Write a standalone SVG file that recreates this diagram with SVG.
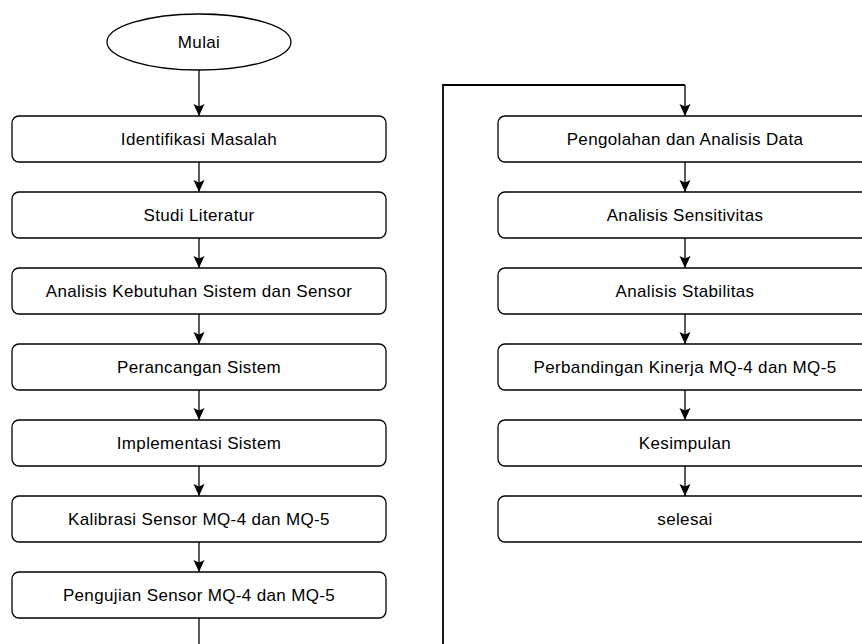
<svg xmlns="http://www.w3.org/2000/svg" width="862" height="644" viewBox="0 0 862 644">
<style>
.box{fill:#fff;stroke:#000;stroke-width:1.3}
.t{font-family:"Liberation Sans",Arial,sans-serif;font-size:17px;letter-spacing:0.35px;fill:#000;text-anchor:middle}
.c{fill:none;stroke:#000;stroke-width:1.3}
</style>
<defs>
<marker id="ah" markerUnits="userSpaceOnUse" markerWidth="14" markerHeight="14" viewBox="-7 -13 14 14" refX="0" refY="0" orient="0">
<path d="M0,0 L-5.5,-12 L0,-9.5 L5.5,-12 Z" fill="#000"/>
</marker>
</defs>
<rect width="862" height="644" fill="#fff"/>
<g id="connectors">
<line class="c" x1="199" y1="70" x2="199" y2="116" marker-end="url(#ah)"/>
<line class="c" x1="199" y1="162" x2="199" y2="192" marker-end="url(#ah)"/>
<line class="c" x1="199" y1="238" x2="199" y2="268" marker-end="url(#ah)"/>
<line class="c" x1="199" y1="314" x2="199" y2="344" marker-end="url(#ah)"/>
<line class="c" x1="199" y1="390" x2="199" y2="420" marker-end="url(#ah)"/>
<line class="c" x1="199" y1="466" x2="199" y2="496" marker-end="url(#ah)"/>
<line class="c" x1="199" y1="542" x2="199" y2="572" marker-end="url(#ah)"/>
<line class="c" x1="199" y1="618" x2="199" y2="650"/>
<polyline class="c" style="stroke-width:1.8" points="443,650 443,85 685,85"/>
<line class="c" x1="685" y1="85" x2="685" y2="116" marker-end="url(#ah)"/>
<line class="c" x1="685" y1="162" x2="685" y2="192" marker-end="url(#ah)"/>
<line class="c" x1="685" y1="238" x2="685" y2="268" marker-end="url(#ah)"/>
<line class="c" x1="685" y1="314" x2="685" y2="344" marker-end="url(#ah)"/>
<line class="c" x1="685" y1="390" x2="685" y2="420" marker-end="url(#ah)"/>
<line class="c" x1="685" y1="466" x2="685" y2="496" marker-end="url(#ah)"/>
</g>
<g id="mulai"><ellipse class="box" cx="199" cy="42" rx="92" ry="28"/><text class="t" x="199" y="48">Mulai</text></g>
<g id="n1"><rect class="box" x="12" y="116" width="374" height="46" rx="7"/><text class="t" x="199" y="145">Identifikasi Masalah</text></g>
<g id="n2"><rect class="box" x="12" y="192" width="374" height="46" rx="7"/><text class="t" x="199" y="221">Studi Literatur</text></g>
<g id="n3"><rect class="box" x="12" y="268" width="374" height="46" rx="7"/><text class="t" x="199" y="297">Analisis Kebutuhan Sistem dan Sensor</text></g>
<g id="n4"><rect class="box" x="12" y="344" width="374" height="46" rx="7"/><text class="t" x="199" y="373">Perancangan Sistem</text></g>
<g id="n5"><rect class="box" x="12" y="420" width="374" height="46" rx="7"/><text class="t" x="199" y="449">Implementasi Sistem</text></g>
<g id="n6"><rect class="box" x="12" y="496" width="374" height="46" rx="7"/><text class="t" x="199" y="525">Kalibrasi Sensor MQ-4 dan MQ-5</text></g>
<g id="n7"><rect class="box" x="12" y="572" width="374" height="46" rx="7"/><text class="t" x="199" y="601">Pengujian Sensor MQ-4 dan MQ-5</text></g>
<g id="n8"><rect class="box" x="498" y="116" width="374" height="46" rx="7"/><text class="t" x="685" y="145">Pengolahan dan Analisis Data</text></g>
<g id="n9"><rect class="box" x="498" y="192" width="374" height="46" rx="7"/><text class="t" x="685" y="221">Analisis Sensitivitas</text></g>
<g id="n10"><rect class="box" x="498" y="268" width="374" height="46" rx="7"/><text class="t" x="685" y="297">Analisis Stabilitas</text></g>
<g id="n11"><rect class="box" x="498" y="344" width="374" height="46" rx="7"/><text class="t" x="685" y="373">Perbandingan Kinerja MQ-4 dan MQ-5</text></g>
<g id="n12"><rect class="box" x="498" y="420" width="374" height="46" rx="7"/><text class="t" x="685" y="449">Kesimpulan</text></g>
<g id="n13"><rect class="box" x="498" y="496" width="374" height="46" rx="7"/><text class="t" x="685" y="525">selesai</text></g>
</svg>
